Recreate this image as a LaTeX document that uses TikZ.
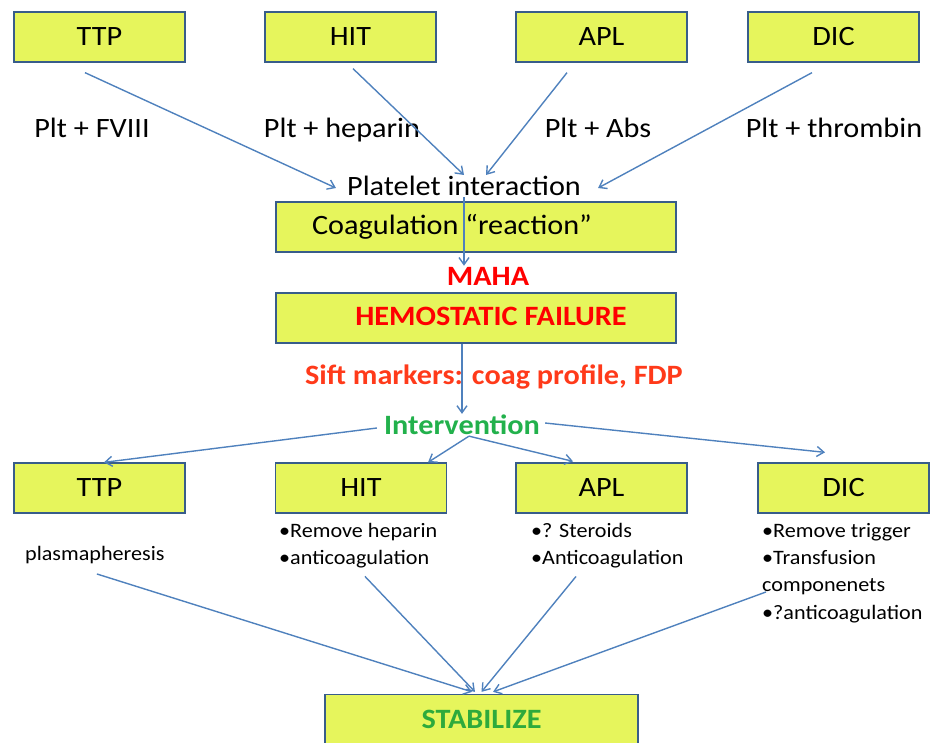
\documentclass[tikz,border=0pt]{standalone}
\usepackage{fontspec}
\setmainfont[FakeStretch=1.08]{Carlito}
\usepackage{xcolor}
\usepackage{tikz}
\usetikzlibrary{positioning,calc,arrows.meta}

\definecolor{boxfill}{RGB}{230,245,92}
\definecolor{boxline}{RGB}{56,93,138}
\definecolor{arrowblue}{RGB}{79,129,189}
\definecolor{sift}{RGB}{255,58,26}
\definecolor{interv}{RGB}{34,177,76}
\definecolor{stabgreen}{RGB}{46,170,60}

\begin{document}
\begin{tikzpicture}[x=1pt,y=-1pt,
    box/.style={draw=boxline, fill=boxfill, line width=1.3pt, minimum height=50pt, inner sep=0pt},
    big/.style={font=\fontsize{28}{30}\selectfont},
    small/.style={font=\fontsize{20.5}{27.3}\selectfont, align=left, inner sep=0pt},
    flow/.style={draw=arrowblue, line width=1.4pt, -{Straight Barb[length=7pt,width=10pt]}}]
    \useasboundingbox (0,0) rectangle (931,742);

    % causes
    \node[box, big, minimum width=171pt] (ttpA) at (99.5,37) {TTP};
    \node[box, big, minimum width=171pt] (hitA) at (350.5,37) {HIT};
    \node[box, big, minimum width=171pt] (aplA) at (601.5,37) {APL};
    \node[box, big, minimum width=171pt] (dicA) at (833.5,37) {DIC};

    \node[big, anchor=base] (lblA) at (92,137) {Plt + FVIII};
    \node[big, anchor=base] (lblB) at (342,137) {Plt + heparin};
    \node[big, anchor=base] (lblC) at (598,137) {Plt + Abs};
    \node[big, anchor=base] (lblD) at (834,137) {Plt + thrombin};

    \node[big, inner sep=1pt] (plt) at (464,186) {Platelet interaction};

    % reaction and failure
    \node[box, minimum width=400pt] (coag) at (476,227) {};
    \node[big] (coagtxt) at (452,227) {Coagulation “reaction”};
    \node[big, text=red, font=\fontsize{28}{30}\selectfont\bfseries, inner sep=1pt] (maha) at (488,276) {MAHA};
    \node[box, minimum width=400pt] (hemo) at (476,318) {};
    \node[big, text=red, font=\fontsize{28}{30}\selectfont\bfseries] (hemotxt) at (491,316) {HEMOSTATIC FAILURE};
    \node[big, text=sift, font=\fontsize{28}{30}\selectfont\bfseries] (markers) at (494,377) {Sift markers: coag profile,\ FDP};
    \node[big, text=interv, font=\fontsize{28}{30}\selectfont\bfseries, inner sep=1pt] (interv) at (462,425) {Intervention};

    % treatment
    \node[box, big, minimum width=171pt] (ttpB) at (99.5,488) {TTP};
    \node[box, big, minimum width=171pt] (hitB) at (361,488) {HIT};
    \node[box, big, minimum width=171pt] (aplB) at (601.5,488) {APL};
    \node[box, big, minimum width=171pt] (dicB) at (843.5,488) {DIC};

    \node[small, anchor=west] (plasma) at (25,555) {plasmapheresis};
    \node[small, anchor=north west] (hitnote) at (279,523) {•Remove heparin\\•anticoagulation};
    \node[small, anchor=north west] (aplnote) at (531,523) {•? Steroids\\•Anticoagulation};
    \node[small, anchor=north west] (dicnote) at (762,523) {•Remove trigger\\•Transfusion\\componenets\\•?anticoagulation};

    \node[box, minimum width=313pt, minimum height=65pt] (stab) at (481.5,727) {};
    \node[big, text=stabgreen, font=\fontsize{28}{30}\selectfont\bfseries] (stabtxt) at (481.5,719) {STABILIZE};

    % arrows
    \draw[flow] ([xshift=-14.5pt,yshift=-10pt]ttpA.south) -- ([xshift=-10pt,yshift=-2pt]plt.west);
    \draw[flow] ([xshift=2.5pt,yshift=-6pt]hitA.south) -- (plt.north);
    \draw[flow] ([xshift=-34.5pt,yshift=-10pt]aplA.south) -- ([xshift=22pt]plt.north);
    \draw[flow] ([xshift=-21.5pt,yshift=-10pt]dicA.south) -- ([xshift=16pt,yshift=-2pt]plt.east);
    \draw[flow] (plt.south) -- (plt.south |- maha.north);
    \draw[flow] (interv.north |- hemo.south) -- (interv.north);

    \draw[flow] ([xshift=-6pt,yshift=-3pt]interv.west) -- ([xshift=4.5pt]ttpB.north);
    \draw[flow] ([xshift=7pt]interv.south) -- ([xshift=67pt]hitB.north);
    \draw[flow] ([xshift=7pt]interv.south) -- ([xshift=-28.5pt,yshift=1pt]aplB.north);
    \draw[flow] ([xshift=4pt,yshift=2pt]interv.east) -- ([xshift=-18.5pt,yshift=10pt]dicB.north);

    \draw[flow] ([xshift=2pt,yshift=-10pt]plasma.south) -- ([xshift=-9.5pt,yshift=2pt]stab.north);
    \draw[flow] ([xshift=86pt,yshift=-8pt]hitnote.south west) -- ([xshift=-6.5pt,yshift=2pt]stab.north);
    \draw[flow] ([xshift=45pt,yshift=-8pt]aplnote.south west) -- ([yshift=2pt]stab.north);
    \draw[flow] ([xshift=4pt,yshift=-19pt]dicnote.west) -- ([xshift=11.5pt,yshift=2pt]stab.north);
\end{tikzpicture}
\end{document}
